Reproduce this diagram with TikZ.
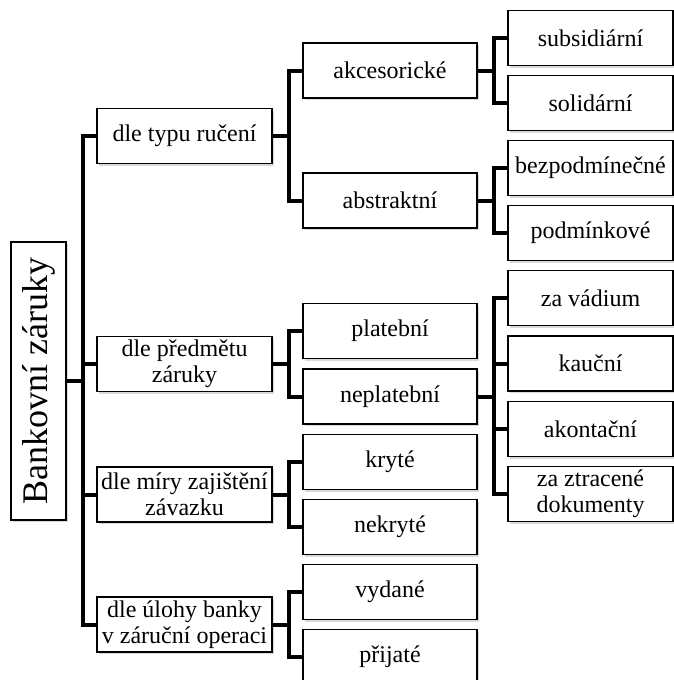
\documentclass[tikz,border=0pt]{standalone}
\usepackage{fontspec}
\setmainfont{Liberation Serif}
\usetikzlibrary{shadows}
\begin{document}
\begin{tikzpicture}[x=0.5pt, y=-0.5pt,
		rect/.style={shape=rectangle, draw=black, line width=0.8pt, fill=white, align=center, inner sep=1pt,
			font=\fontsize{12}{13}\selectfont, drop shadow={shadow xshift=1pt, shadow yshift=-1.2pt, opacity=0.3}},
		lvla/.style={rect, minimum width=87.5pt, minimum height=27.5pt},
		lvlb/.style={rect, minimum width=87pt, minimum height=27.5pt},
		lvlc/.style={rect, minimum width=82.5pt, minimum height=27.5pt},
		conn/.style={line width=2pt}]
		\useasboundingbox (0,0) rectangle (674,680);
		\node (root) at (38.5,381) [rect, rotate=90, minimum width=139pt, minimum height=27.5pt, font=\fontsize{18}{20}\selectfont] {Bankovní záruky};
		% prvni uroven
		\node (typ) at (184.5,136) [lvla] {dle typu ručení};
		\node (predmet) at (184.5,364) [lvla] {dle předmětu\\záruky};
		\node (mira) at (184.5,494.5) [lvla] {dle míry zajištění\\závazku};
		\node (uloha) at (184.5,624.5) [lvla] {dle úlohy banky\\v záruční operaci};
		% druha uroven
		\node (akc) at (390,70.5) [lvlb] {akcesorické};
		\node (abs) at (390,200.5) [lvlb] {abstraktní};
		\node (plat) at (390,331) [lvlb] {platební};
		\node (neplat) at (390,396.5) [lvlb] {neplatební};
		\node (kryte) at (390,462) [lvlb] {kryté};
		\node (nekryte) at (390,527) [lvlb] {nekryté};
		\node (vydane) at (390,592) [lvlb] {vydané};
		\node (prijate) at (390,657) [lvlb] {přijaté};
		% treti uroven
		\node (sub) at (590.5,38) [lvlc] {subsidiární};
		\node (sol) at (590.5,103) [lvlc] {solidární};
		\node (bezp) at (590.5,168) [lvlc] {bezpodmínečné};
		\node (podm) at (590.5,233) [lvlc] {podmínkové};
		\node (vad) at (590.5,298) [lvlc] {za vádium};
		\node (kauc) at (590.5,363.5) [lvlc] {kauční};
		\node (akon) at (590.5,429) [lvlc] {akontační};
		\node (ztrac) at (590.5,494) [lvlc] {za ztracené\\dokumenty};
		% spojnice
		\draw[conn] (root.south) -- ++(16,0) |- (typ.west);
		\draw[conn] (root.south) -- ++(16,0) |- (predmet.west);
		\draw[conn] (root.south) -- ++(16,0) |- (mira.west);
		\draw[conn] (root.south) -- ++(16,0) |- (uloha.west);
		\draw[conn] (typ.east) -- ++(16,0) |- (akc.west);
		\draw[conn] (typ.east) -- ++(16,0) |- (abs.west);
		\draw[conn] (predmet.east) -- ++(16,0) |- (plat.west);
		\draw[conn] (predmet.east) -- ++(16,0) |- (neplat.west);
		\draw[conn] (mira.east) -- ++(16,0) |- (kryte.west);
		\draw[conn] (mira.east) -- ++(16,0) |- (nekryte.west);
		\draw[conn] (uloha.east) -- ++(16,0) |- (vydane.west);
		\draw[conn] (uloha.east) -- ++(16,0) |- (prijate.west);
		\draw[conn] (akc.east) -- ++(16,0) |- (sub.west);
		\draw[conn] (akc.east) -- ++(16,0) |- (sol.west);
		\draw[conn] (abs.east) -- ++(16,0) |- (bezp.west);
		\draw[conn] (abs.east) -- ++(16,0) |- (podm.west);
		\draw[conn] (neplat.east) -- ++(16,0) |- (vad.west);
		\draw[conn] (neplat.east) -- ++(16,0) |- (kauc.west);
		\draw[conn] (neplat.east) -- ++(16,0) |- (akon.west);
		\draw[conn] (neplat.east) -- ++(16,0) |- (ztrac.west);
\end{tikzpicture}
\end{document}
